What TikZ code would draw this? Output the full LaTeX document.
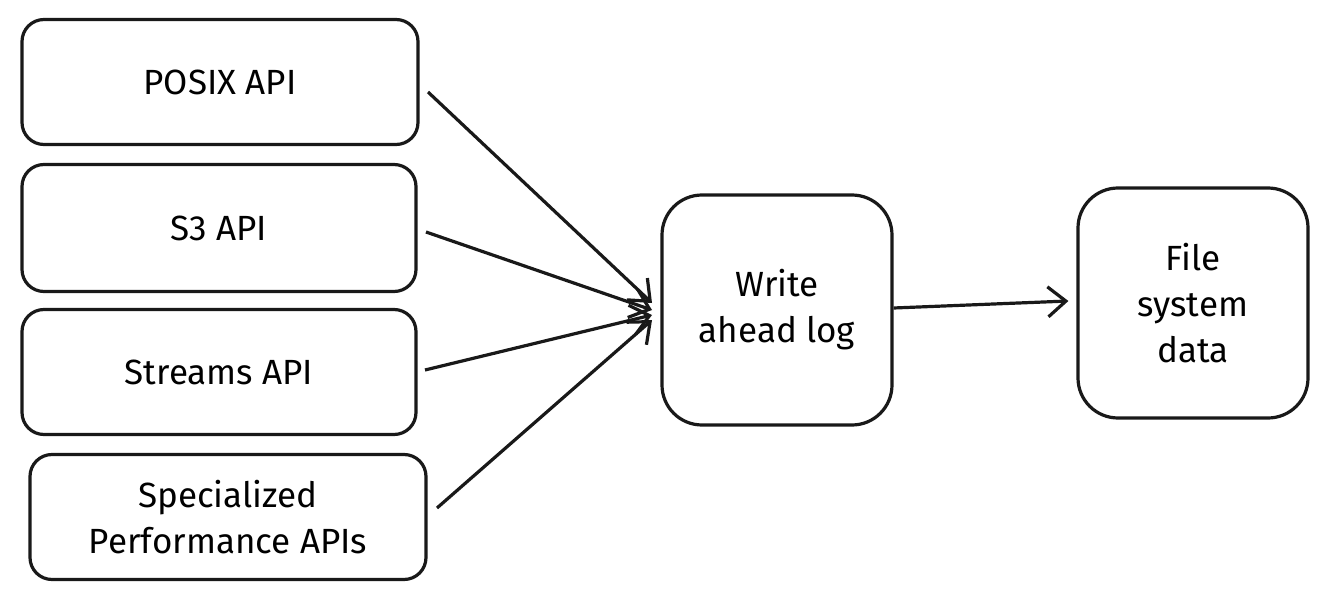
\documentclass[tikz,border=0pt]{standalone}
\usepackage{fontspec}
\setmainfont{Fira Sans}
\usetikzlibrary{arrows.meta}
\begin{document}
\begin{tikzpicture}[x=1pt,y=-1pt,
  box/.style={draw=black!90,line width=3.2pt,rounded corners=22pt,inner sep=0pt,align=center,font=\fontsize{35}{46}\selectfont},
  arr/.style={draw=black!90,line width=3.2pt,-{Straight Barb[length=18pt,width=30pt,line width=3.2pt]}}]
\useasboundingbox (0,0) rectangle (1328,599);
\node[box,minimum width=396pt,minimum height=125pt] (posix) at (220,82) {POSIX API};
\node[box,minimum width=394pt,minimum height=127pt] (s3) at (219,228) {S3 API};
\node[box,minimum width=394pt,minimum height=125pt] (str) at (219,372) {Streams API};
\node[box,minimum width=396pt,minimum height=125pt] (spec) at (228,517) {Specialized\\Performance APIs};
\node[box,minimum width=230pt,minimum height=230pt,rounded corners=40pt] (wal) at (777,310) {Write\\ahead log};
\node[box,minimum width=230pt,minimum height=230pt,rounded corners=40pt] (fs) at (1193,303) {File\\system\\data};
\coordinate (p1) at (428,92); \coordinate (p2) at (426,232);
\coordinate (p3) at (425,370); \coordinate (p4) at (437,508);
\coordinate (w1) at (652,303); \coordinate (w2) at (652,310);
\coordinate (w3) at (652,315); \coordinate (w4) at (652,320);
\draw[arr] (p1) -- (w1);
\draw[arr] (p2) -- (w2);
\draw[arr] (p3) -- (w3);
\draw[arr] (p4) -- (w4);
\draw[arr] (wal.east) ++(0,-2) coordinate (we) (we) -- ([xshift=-8pt,yshift=2pt]fs.west);
\end{tikzpicture}
\end{document}
